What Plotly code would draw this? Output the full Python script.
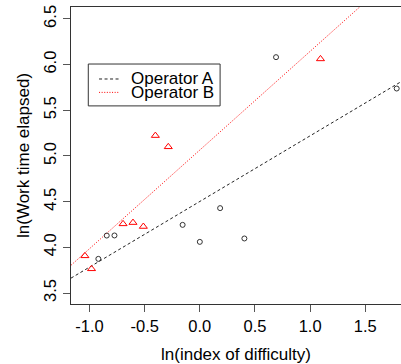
import numpy as np
import plotly.graph_objects as go

# Operator A (circles)
a_x = [-0.92, -0.844, -0.774, -0.156, 0.0, 0.184, 0.404, 0.691, 1.785]
a_y = [3.874, 4.129, 4.13, 4.246, 4.06, 4.429, 4.097, 6.081, 5.738]
# Operator B (triangles)
b_x = [-1.042, -0.982, -0.696, -0.606, -0.512, -0.403, -0.286, 1.094]
b_y = [3.907, 3.765, 4.257, 4.271, 4.228, 5.223, 5.10, 6.062]

series_names = ["Operator A", "Operator B"]
x_ticks = [-1.0, -0.5, 0.0, 0.5, 1.0, 1.5]
y_ticks = [3.5, 4.0, 4.5, 5.0, 5.5, 6.0, 6.5]
x_range = [-1.168, 1.824]
y_range = [3.38, 6.63]
x_title = "ln(index of difficulty)"
y_title = "ln(Work time elapsed)"

FONT = "Liberation Sans, Arial, sans-serif"

fig = go.Figure()

# regression lines
for xs, ys, color, dash, name in [
    (a_x, a_y, "#222222", "3px,2.5px", series_names[0]),
    (b_x, b_y, "#ff0000", "1px,1.6px", series_names[1]),
]:
    m, c = np.polyfit(xs, ys, 1)
    lx = np.array(x_range)
    fig.add_trace(go.Scatter(x=lx, y=m * lx + c, mode="lines",
                             line=dict(color=color, width=1, dash=dash),
                             name=name, showlegend=False, hoverinfo="skip"))

fig.add_trace(go.Scatter(x=a_x, y=a_y, mode="markers", showlegend=False,
                         marker=dict(symbol="circle-open", size=5,
                                     color="#333333", line=dict(width=1))))
fig.add_trace(go.Scatter(x=b_x, y=b_y, mode="markers", showlegend=False,
                         marker=dict(symbol="triangle-up-open", size=7,
                                     color="#ff0000", line=dict(width=1))))

# manual legend (R style, tight rows)
shapes = [
    dict(type="rect", xref="paper", yref="paper", x0=0.0524, x1=0.4518,
         y0=0.667, y1=0.808, line=dict(color="#333333", width=1),
         fillcolor="white", layer="above"),
    dict(type="line", xref="paper", yref="paper", x0=0.085, x1=0.148,
         y0=0.7576, y1=0.7576, line=dict(color="#222222", width=1, dash="3px,2.5px")),
    dict(type="line", xref="paper", yref="paper", x0=0.085, x1=0.148,
         y0=0.7125, y1=0.7125, line=dict(color="#ff0000", width=1, dash="1px,1.6px")),
]
annotations = [
    dict(text=series_names[0], xref="paper", yref="paper", x=0.176, y=0.7576,
         xanchor="left", yanchor="middle", showarrow=False,
         font=dict(family=FONT, size=17, color="black")),
    dict(text=series_names[1], xref="paper", yref="paper", x=0.176, y=0.7125,
         xanchor="left", yanchor="middle", showarrow=False,
         font=dict(family=FONT, size=17, color="black")),
    dict(text=y_title, xref="paper", yref="paper", x=-0.144, y=0.5,
         xanchor="center", yanchor="middle", textangle=-90, showarrow=False,
         font=dict(family=FONT, size=17, color="black")),
]

fig.update_layout(
    width=401, height=364,
    margin=dict(l=71, r=0, t=7, b=60, autoexpand=False),
    paper_bgcolor="white", plot_bgcolor="white",
    font=dict(family=FONT, size=16.5, color="black"),
    shapes=shapes, annotations=annotations,
    xaxis=dict(range=x_range, tickvals=x_ticks, ticktext=[f"{v:.1f}" for v in x_ticks],
               showgrid=False, zeroline=False, showline=True, mirror=True,
               linecolor="#333333", linewidth=1, ticks="outside", ticklen=7,
               tickcolor="#555555", automargin=False,
               title=dict(text=x_title, font=dict(size=17))),
    yaxis=dict(range=y_range, tickvals=y_ticks, ticktext=[f"{v:.1f}" for v in y_ticks],
               showgrid=False, zeroline=False, showline=True, mirror=False,
               linecolor="#333333", linewidth=1, ticks="outside", ticklen=7,
               tickcolor="#555555", tickangle=-90, automargin=False),
)

fig.write_html("out.html", config={"displayModeBar": False},
               post_script="document.body.style.margin='0px';")
